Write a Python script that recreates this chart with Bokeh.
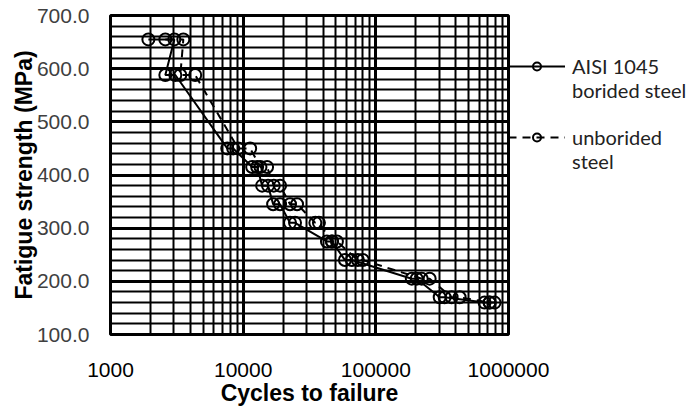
from bokeh.plotting import figure
from bokeh.models import FixedTicker, Legend, LegendItem, NumeralTickFormatter, Range1d
from bokeh.embed import file_html
from bokeh.resources import INLINE

# ---- data ----
borided_cycles = [1930, 3030, 2590, 3080, 7590, 8410, 11690, 12750, 13900, 15400,
                  16820, 18970, 22550, 24600, 42800, 46700, 58500, 66000,
                  186600, 203300, 303000, 330000, 660000, 720000]
borided_stress = [655, 655, 588, 588, 450, 450, 415, 415, 380, 380,
                  345, 345, 310, 310, 275, 275, 240, 240,
                  205, 205, 170, 170, 160, 160]
unborided_cycles = [2590, 3540, 3360, 4350, 9170, 11290, 13500, 15150, 17000, 18970,
                    22550, 25470, 35000, 37250, 46700, 50900, 73200, 79800,
                    221600, 254500, 372600, 428200, 720000, 785000]
unborided_stress = [655, 655, 588, 588, 450, 450, 415, 415, 380, 380,
                    345, 345, 310, 310, 275, 275, 240, 240,
                    205, 205, 170, 170, 160, 160]
x_ticks = [1000, 10000, 100000, 1000000]
x_minor = [m * d for d in (1000, 10000, 100000) for m in range(2, 10)]
y_ticks = [100, 200, 300, 400, 500, 600, 700]
y_minor = list(range(100, 701, 20))
# legend labels, one line per entry
borided_label = ["AISI 1045", "borided steel"]
unborided_label = ["unborided", "steel"]

p = figure(x_axis_type="log", output_backend="svg", toolbar_location=None,
           frame_width=398, frame_height=319,
           min_border_left=110, min_border_right=188, min_border_top=15, min_border_bottom=73,
           x_range=Range1d(1000, 1000000), y_range=Range1d(100, 700))
p.background_fill_color = "white"
p.border_fill_color = "white"
p.outline_line_color = "black"
p.outline_line_width = 3

for ax in (p.xaxis[0], p.yaxis[0]):
    ax.axis_line_color = None
    ax.major_tick_line_color = None
    ax.minor_tick_line_color = None
    ax.axis_label_text_color = "black"
    ax.axis_label_text_font = "Liberation Sans"
    ax.axis_label_text_font_style = "bold"
    ax.axis_label_text_font_size = "23px"

p.xaxis.ticker = FixedTicker(ticks=x_ticks, minor_ticks=x_minor)
p.yaxis.ticker = FixedTicker(ticks=y_ticks, minor_ticks=y_minor)
p.yaxis.formatter = NumeralTickFormatter(format="0.0")
p.xaxis.major_label_overrides = {t: str(t) for t in x_ticks}

p.xaxis.major_label_text_font = "Liberation Sans"
p.xaxis.major_label_text_font_size = "21px"
p.xaxis.major_label_text_color = "black"
p.xaxis.major_label_standoff = 22
p.xaxis.axis_label = "Cycles to failure"
p.xaxis.axis_label_standoff = 0

p.yaxis.major_label_text_font = "Liberation Sans"
p.yaxis.major_label_text_font_size = "21px"
p.yaxis.major_label_text_color = "#404040"
p.yaxis.major_label_standoff = 15
p.yaxis.axis_label = "Fatigue strength (MPa)"
p.yaxis.axis_label_standoff = -3

for g in (p.xgrid[0], p.ygrid[0]):
    g.grid_line_color = "black"
    g.grid_line_width = 3
    g.minor_grid_line_color = "black"
    g.minor_grid_line_width = 2

l1 = p.line(borided_cycles, borided_stress, line_color="black", line_width=2)
s1 = p.scatter(borided_cycles, borided_stress, marker="circle", size=12,
               fill_color=None, line_color="black", line_width=2)
l2 = p.line(unborided_cycles, unborided_stress, line_color="black", line_width=2,
            line_dash="8 6")
s2 = p.scatter(unborided_cycles, unborided_stress, marker="circle", size=12,
               fill_color=None, line_color="black", line_width=2)
# empty, invisible renderer used for text-only legend rows
blank = p.scatter(x=[], y=[], marker="circle", size=1, fill_alpha=0, line_alpha=0)

legend = Legend(items=[LegendItem(label=borided_label[0], renderers=[l1, s1]),
                       LegendItem(label=borided_label[1], renderers=[blank]),
                       LegendItem(label=" ", renderers=[blank]),
                       LegendItem(label=unborided_label[0], renderers=[l2, s2]),
                       LegendItem(label=unborided_label[1], renderers=[blank])],
                location=(0, 161), margin=0, padding=0, spacing=0,
                glyph_width=57, glyph_height=20, label_height=23, label_standoff=7,
                label_text_font="Lato", label_text_font_size="20px",
                label_text_color="#222222",
                border_line_color=None, background_fill_alpha=0)
p.add_layout(legend, "right")

open("out.html", "w").write(file_html(p, INLINE))
